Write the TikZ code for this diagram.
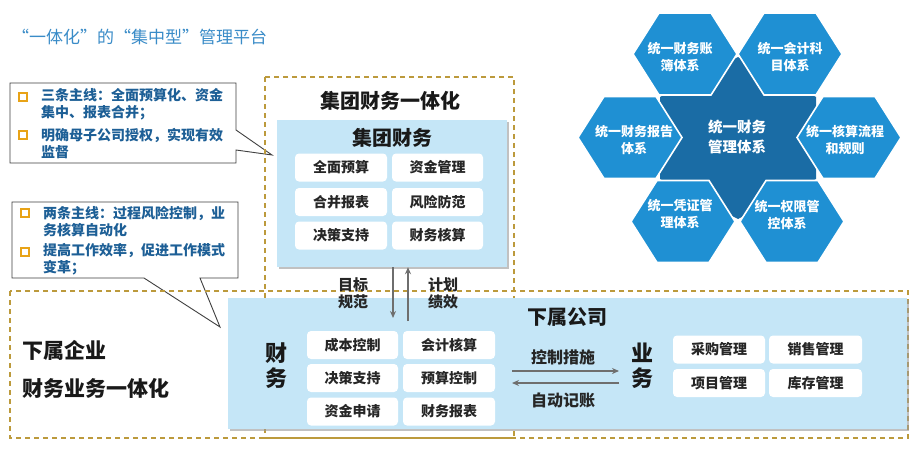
\documentclass[tikz,border=0pt]{standalone}
\usepackage{fontspec}
\setmainfont{Noto Sans CJK SC}
\usetikzlibrary{shadows,arrows.meta,calc}
\definecolor{gold}{HTML}{BC9A3C}
\definecolor{lblue}{HTML}{C5E6F7}
\definecolor{titleblue}{HTML}{3A8CC8}
\definecolor{calltext}{HTML}{1D5F96}
\definecolor{bulorange}{HTML}{E8A317}
\definecolor{hexblue}{HTML}{1F90D3}
\definecolor{stardark}{HTML}{1A6CA5}
\definecolor{arrgray}{HTML}{6E6E6E}
\tikzset{
  dbox/.style={draw=gold, line width=1.3pt, dash pattern=on 5pt off 4pt},
  bluebox/.style={fill=lblue, draw=none, inner sep=0pt,
    drop shadow={shadow xshift=1.5pt, shadow yshift=-2pt, fill=black!40, opacity=.6}},
  wbox/.style={fill=white, rounded corners=4pt, inner sep=0pt, minimum height=28pt,
    font=\fontsize{14pt}{17pt}\selectfont\bfseries, text=black!85},
  callout/.style={fill=white, draw=black!75, line width=0.9pt},
  calltxt/.style={anchor=west, inner sep=0pt, align=left, text=calltext,
    font=\fontsize{14pt}{17pt}\selectfont\bfseries},
  bul/.style={draw=bulorange, fill=white, line width=1.5pt, minimum size=8pt, inner sep=0pt,
    drop shadow={shadow xshift=0.8pt, shadow yshift=-0.8pt, fill=black!50, opacity=.5}},
  heading/.style={inner sep=0pt, font=\fontsize{20pt}{24pt}\selectfont\bfseries, text=black!90},
  lbl/.style={inner sep=0pt, align=center, font=\fontsize{15pt}{17pt}\selectfont\bfseries, text=black!85},
  vert/.style={inner sep=0pt, align=center, font=\fontsize{22pt}{25pt}\selectfont\bfseries, text=black!90},
  big/.style={anchor=west, inner sep=0pt, font=\fontsize{21pt}{25pt}\selectfont\bfseries, text=black!90},
  arr/.style={-{Stealth[length=7pt,width=6pt]}, draw=arrgray, line width=1.4pt},
  hexshape/.style={fill=hexblue, draw=white, line width=1.6pt},
  hext/.style={inner sep=0pt, align=center, text=white, font=\fontsize{13pt}{17pt}\selectfont\bfseries},
}
\begin{document}
\begin{tikzpicture}[x=1pt,y=-1pt]
\useasboundingbox[fill=white] (0,0) rectangle (920,450);

% title
\node[anchor=west, inner sep=0pt, text=titleblue, font=\fontsize{17pt}{20pt}\selectfont] (title) at (12,37) {“一体化”的“集中型”管理平台};

% callouts
\draw[callout] (10,83) -- (236,83) -- (236,130) -- (272,155) -- (236,150) -- (236,163) -- (10,163) -- cycle;
\node[bul] (b1) at (23,97) {};
\node[calltxt] (c1a) at (41,104.5) {三条主线：全面预算化、资金\\集中、报表合并；};
\node[bul] (b2) at (23,135) {};
\node[calltxt] (c1b) at (41,143.5) {明确母子公司授权，实现有效\\监督};

\draw[callout] (12,202) -- (238,202) -- (238,278) -- (200,278) -- (220,327) -- (144,278) -- (12,278) -- cycle;
\node[bul] (b3) at (25,213) {};
\node[calltxt] (c2a) at (43,222) {两条主线：过程风险控制，业\\务核算自动化};
\node[bul] (b4) at (25,252) {};
\node[calltxt] (c2b) at (43,259.5) {提高工作效率，促进工作模式\\变革；};

% dashed frames
\draw[dbox] (265,77) rectangle (514,438);
\draw[dbox] (10,291) rectangle (908,438);

% group finance
\node[heading] (gtitle) at (390,101) {集团财务一体化};
\node[bluebox, minimum width=230pt, minimum height=147pt] (gbox) at (392,193.5) {};
\node[heading] (ghead) at (392,138) {集团财务};
\node[wbox, minimum width=92pt] (g11) at (341,167.5) {全面预算};
\node[wbox, minimum width=91pt] (g12) at (437.5,167.5) {资金管理};
\node[wbox, minimum width=92pt] (g21) at (341,202) {合并报表};
\node[wbox, minimum width=91pt] (g22) at (437.5,202) {风险防范};
\node[wbox, minimum width=92pt] (g31) at (341,235.5) {决策支持};
\node[wbox, minimum width=91pt] (g32) at (437.5,235.5) {财务核算};

% subsidiary box
\node[bluebox, minimum width=679pt, minimum height=131pt] (sbox) at (567.5,363.5) {};
\node[heading] (shead) at (567,317) {下属公司};
\node[vert] (fin) at (276,365.5) {财\\务};
\node[wbox, minimum width=91pt] (f11) at (352.5,345) {成本控制};
\node[wbox, minimum width=92pt] (f12) at (449,345) {会计核算};
\node[wbox, minimum width=91pt] (f21) at (352.5,378) {决策支持};
\node[wbox, minimum width=92pt] (f22) at (449,378) {预算控制};
\node[wbox, minimum width=91pt] (f31) at (352.5,411.5) {资金申请};
\node[wbox, minimum width=92pt] (f32) at (449,411.5) {财务报表};
\node[vert] (biz) at (642,365.5) {业\\务};
\node[wbox, minimum width=92pt] (y11) at (719,349.5) {采购管理};
\node[wbox, minimum width=93pt] (y12) at (815.5,349.5) {销售管理};
\node[wbox, minimum width=92pt] (y21) at (719,383) {项目管理};
\node[wbox, minimum width=93pt] (y22) at (815.5,383) {库存管理};

% vertical arrows
\coordinate (dA) at (393,318);
\coordinate (uA) at (408,321);
\draw[arr] (gbox.south -| dA) -- (dA);
\draw[arr] (uA) -- (gbox.south -| uA);
\node[lbl] (lt) at (353,293.5) {目标\\规范};
\node[lbl] (lp) at (443,293.5) {计划\\绩效};

% horizontal arrows
\coordinate (hL1) at (512,371);
\coordinate (hR1) at (619,371);
\coordinate (hL2) at (512,383);
\coordinate (hR2) at (619,383);
\draw[arr] (hL1) -- (hR1);
\draw[arr] (hR2) -- (hL2);
\node[lbl, font=\fontsize{16pt}{19pt}\selectfont\bfseries] (ctl) at (563,357) {控制措施};
\node[lbl, font=\fontsize{16pt}{19pt}\selectfont\bfseries] (acc) at (563,400) {自动记账};

% left labels
\node[big] (sub1) at (22,350) {下属企业};
\node[big] (sub2) at (22,388) {财务业务一体化};

% hexagon cluster
\fill[stardark] (738,57) -- (660,97) -- (660,179) -- (738,219) -- (816,179) -- (816,97) -- cycle;
\foreach \cx/\cy in {685/54, 790/54, 630/137.5, 849/137.5, 683/221.5, 792/221.5}{
  \begin{scope}[shift={(\cx,\cy)}]
    \draw[hexshape] (-52,0) -- (-26,-41) -- (26,-41) -- (52,0) -- (26,41) -- (-26,41) -- cycle;
  \end{scope}
}
\node[hext] (tTL) at (680,56.5) {统一财务账\\簿体系};
\node[hext] (tTR) at (790,56.5) {统一会计科\\目体系};
\node[hext] (tL) at (634,140) {统一财务报告\\体系};
\node[hext] (tR) at (845,140) {统一核算流程\\和规则};
\node[hext] (tBL) at (680,214) {统一凭证管\\理体系};
\node[hext] (tBR) at (787,215) {统一权限管\\控体系};
\node[hext, font=\fontsize{14.5pt}{20pt}\selectfont\bfseries] (tC) at (737,137) {统一财务\\管理体系};
\end{tikzpicture}
\end{document}
